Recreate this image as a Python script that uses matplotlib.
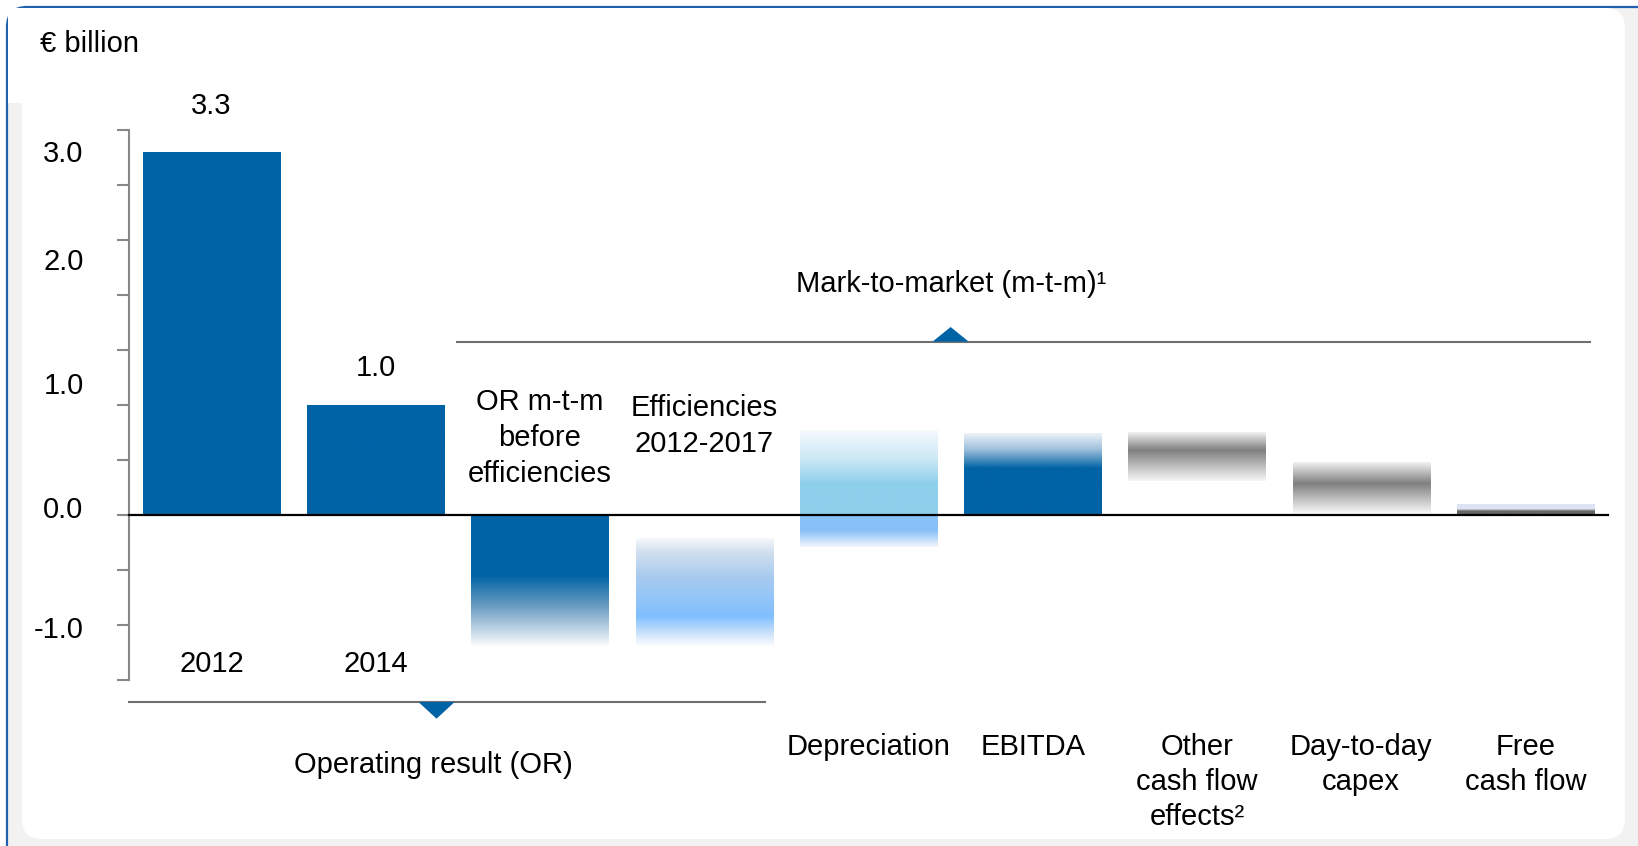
import numpy as np
import matplotlib
matplotlib.use("Agg")
import matplotlib.pyplot as plt
from matplotlib.colors import to_rgba
from matplotlib.patches import FancyBboxPatch, Rectangle, Polygon

# --- data -------------------------------------------------------------
categories = ["2012", "2014", "OR m-t-m\nbefore\nefficiencies",
              "Efficiencies\n2012-2017", "Depreciation", "EBITDA",
              "Other\ncash flow\neffects\u00b2", "Day-to-day\ncapex",
              "Free\ncash flow"]
bar_top = [3.3, 1.0, 0.0, -0.21, 0.77, 0.745, 0.75, 0.48, 0.10]
bar_bottom = [0.0, 0.0, -1.2, -1.2, -0.29, 0.0, 0.31, 0.02, 0.0]
value_labels = {0: "3.3", 1: "1.0"}
ytick_pos = [3.31, 2.33, 1.2, 0.07, -1.02]
ytick_labels = ["3.0", "2.0", "1.0", "0.0", "-1.0"]
group_or = "Operating result (OR)"
group_mtm = "Mark-to-market (m-t-m)\u00b9"

# --- style ------------------------------------------------------------
BLUE = "#0063A6"
FS = 21
LS = 1.38
plt.rcParams["font.family"] = ["Liberation Sans", "DejaVu Sans"]

# colour stops from top (0) to bottom (1) of each bar
stops = [
    [(0, BLUE), (1, BLUE)],
    [(0, BLUE), (1, BLUE)],
    [(0, BLUE), (0.46, BLUE), (0.7, "#6E9FC4"), (0.93, "#DCE8F1"), (1, "#FFFFFF")],
    [(0, "#F6F8FB"), (0.12, "#D3E0F0"), (0.35, "#A9CBEF"), (0.72, "#80BFFF"),
     (0.9, "#D6E8FB"), (1, "#FFFFFF")],
    [(0, "#F6FAFD"), (0.25, "#CBE8F5"), (0.46, "#8ECFEB"), (0.72, "#8ECFEB"),
     (0.73, "#88C0F8"), (0.86, "#88C0F8"), (1, "#F4F7FC")],
    [(0, "#EEF3F8"), (0.2, "#9CBFDB"), (0.43, BLUE), (1, BLUE)],
    [(0, "#F2F2F2"), (0.37, "#7F7F7F"), (0.75, "#C8C8C8"), (1, "#F6F6F6")],
    [(0, "#F2F2F2"), (0.42, "#7F7F7F"), (0.8, "#CFCFCF"), (1, "#F6F6F6")],
    [(0, "#DDE4F4"), (0.45, "#DDE4F4"), (0.55, "#9A9A9A"), (0.65, "#666666"),
     (1, "#666666")],
]


def gradient_image(st, n=256):
    pos = np.array([s[0] for s in st])
    cols = np.array([to_rgba(s[1]) for s in st])
    t = np.linspace(0, 1, n)
    img = np.stack([np.interp(t, pos, cols[:, k]) for k in range(4)], axis=-1)
    return img[:, None, :]


W_PX, H_PX = 1638, 846
fig = plt.figure(figsize=(W_PX / 100, H_PX / 100), dpi=100)

# frame drawn in a pixel-space background axes
bg = fig.add_axes([0, 0, 1, 1], zorder=-1)
bg.set_xlim(0, W_PX)
bg.set_ylim(H_PX, 0)
bg.axis("off")
bg.add_patch(FancyBboxPatch((7, 7), 1660, 870, boxstyle="round,pad=0,rounding_size=20",
                            facecolor="#F2F2F2", edgecolor="#1F62B0", linewidth=1.6))
bg.add_patch(FancyBboxPatch((22, 8), 1603, 831, boxstyle="round,pad=0,rounding_size=20",
                            facecolor="white", edgecolor="none"))
bg.add_patch(Rectangle((8, 8), 30, 95, facecolor="white", edgecolor="none"))

# main axes mapped so that one category = 164.25 px and one unit = 110 px
ax = fig.add_axes([0, 0, 1, 1])
ax.patch.set_alpha(0)
xlim = (-211.5 / 164.25, (W_PX - 211.5) / 164.25)
ylim = ((515 - H_PX) / 110, 515 / 110)

x = np.arange(len(categories))
width = 0.835
for i in x:
    ax.imshow(gradient_image(stops[i]), extent=[i - width / 2, i + width / 2,
                                               bar_bottom[i], bar_top[i]],
              aspect="auto", interpolation="bilinear", zorder=2)

ax.set_xlim(*xlim)
ax.set_ylim(*ylim)

# y axis as a bracket at x = -0.5
for s in ["top", "right", "bottom"]:
    ax.spines[s].set_visible(False)
ax.spines["left"].set_position(("data", -0.5))
ax.spines["left"].set_bounds(-1.5, 3.5)
ax.spines["left"].set_color("#888888")
ax.spines["left"].set_linewidth(1.5)
ax.set_xticks([])
ax.set_yticks(ytick_pos)
ax.set_yticklabels(ytick_labels, fontsize=FS)
ax.set_yticks(np.arange(-1.5, 3.51, 0.5), minor=True)
ax.tick_params(axis="y", which="major", length=0, pad=33)
ax.tick_params(axis="y", which="minor", length=8.5, width=1.5, color="#888888")

# zero line
ax.plot([-0.5, 8.5], [0, 0], color="black", lw=1.6, zorder=3)

# value labels
label_gap = {0: 0.42, 1: 0.335}
for i, lab in value_labels.items():
    ax.text(i, bar_top[i] + label_gap[i], lab, ha="center", va="center", fontsize=FS)

# category labels
ax.text(0, -1.35, categories[0], ha="center", va="center", fontsize=FS)
ax.text(1, -1.35, categories[1], ha="center", va="center", fontsize=FS)
ax.text(2, 0.70, categories[2], ha="center", va="center", fontsize=FS,
        linespacing=LS)
ax.text(3, 0.81, categories[3], ha="center", va="center", fontsize=FS,
        linespacing=LS)
for i in range(4, len(categories)):
    ax.text(i, -1.98, categories[i], ha="center", va="top", fontsize=FS,
            linespacing=1.32)

# group brackets
ax.plot([-0.505, 3.368], [-1.70, -1.70], color="#707070", lw=1.5, zorder=3)
ax.add_patch(Polygon([[1.26, -1.70], [1.48, -1.70], [1.37, -1.852]],
                     closed=True, facecolor=BLUE, edgecolor="none", zorder=4))
ax.text(1.352, -2.27, group_or, ha="center", va="center", fontsize=FS)

ax.plot([1.492, 8.393], [1.576, 1.576], color="#707070", lw=1.5, zorder=3)
ax.add_patch(Polygon([[4.39, 1.576], [4.61, 1.576], [4.5, 1.709]],
                     closed=True, facecolor=BLUE, edgecolor="none", zorder=4))
ax.text(4.506, 2.10, group_mtm, ha="center", va="center", fontsize=FS)

ax.text(-1.044, 4.21, "\u20ac billion", ha="left", va="baseline", fontsize=FS)

fig.savefig("out.png", dpi=100)
